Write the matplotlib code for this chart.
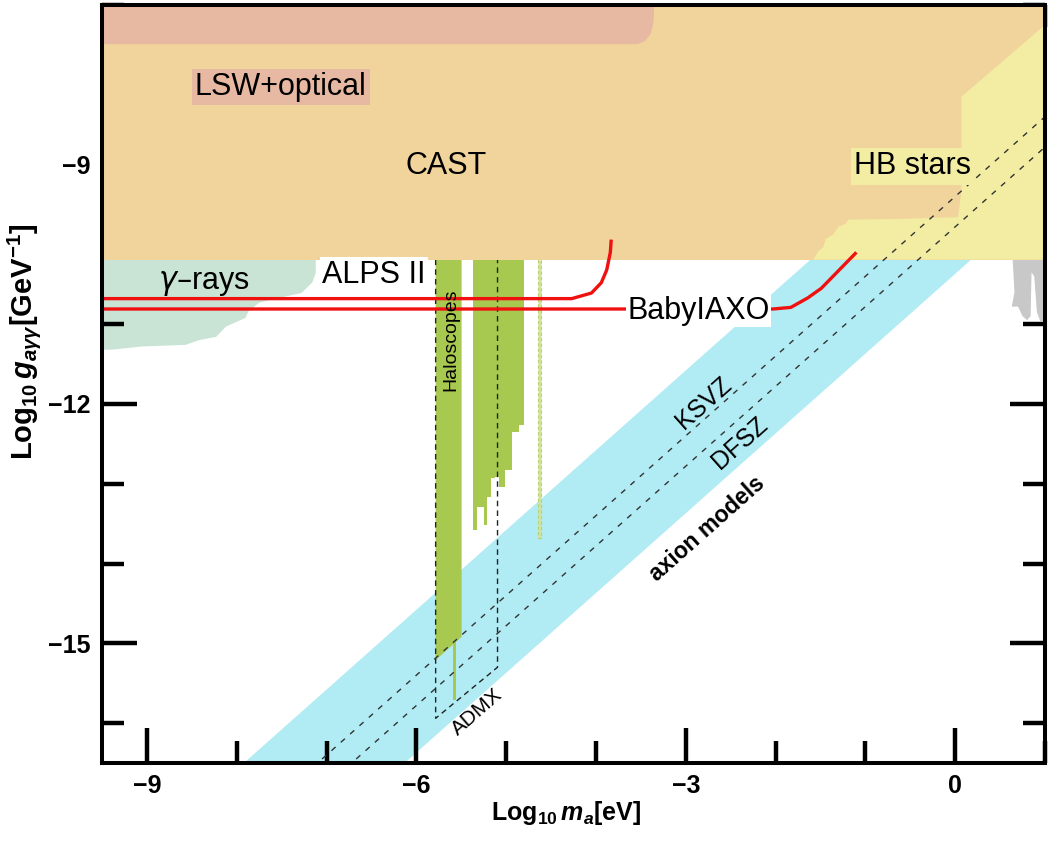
import numpy as np
import matplotlib
matplotlib.use("Agg")
import matplotlib.pyplot as plt
from matplotlib.ticker import FixedLocator, FuncFormatter

plt.rcParams['font.family'] = ['Liberation Sans', 'DejaVu Sans']
plt.rcParams['mathtext.fontset'] = 'custom'
plt.rcParams['mathtext.rm'] = 'Liberation Sans:bold'
plt.rcParams['mathtext.it'] = 'Liberation Sans:bold:italic'
plt.rcParams['mathtext.bf'] = 'Liberation Sans:bold'
plt.rcParams['axes.unicode_minus'] = True

# ---- axis ranges: log10(m_a / eV) and log10(g_agg / GeV^-1)
x_range = (-9.5, 1.0)
y_range = (-16.5, -7.0)

# ---- excluded regions
cast_limit = -10.19

lsw_x = [-9.5, -3.53, -3.45, -3.39, -3.36, -3.35, -9.5]
lsw_y = [-7.49, -7.49, -7.45, -7.36, -7.22, -7.0, -7.0]

hb_x = [-1.58, -1.52, -1.47, -1.44, -1.36, -1.30, -1.22, -1.19, -0.6, 0.03, 0.07, 0.07, 1.0, 1.0]
hb_y = [-10.19, -10.08, -10.04, -9.93, -9.88, -9.78, -9.74, -9.69, -9.68, -9.66, -9.34, -8.15, -7.25, -10.19]

gamma_x = [-9.5, -7.12, -7.12, -7.16, -7.28, -7.53, -7.75, -7.87, -7.90, -8.12, -8.23,
           -8.42, -8.57, -9.06, -9.39, -9.5]
gamma_y = [-10.19, -10.19, -10.36, -10.48, -10.61, -10.67, -10.73, -10.84, -10.92, -11.03,
           -11.16, -11.20, -11.26, -11.28, -11.32, -11.32]

gray_x = [0.64, 0.66, 0.63, 0.70, 0.75, 0.80, 0.84, 0.85, 0.88, 0.91, 0.95, 1.0, 1.0]
gray_y = [-10.19, -10.60, -10.78, -10.78, -10.90, -10.95, -10.90, -10.35, -10.40, -10.85,
          -10.97, -10.97, -10.19]

# ---- haloscope exclusions
admx_bar_x = [-5.785, -5.496, -5.496, -5.785]
admx_bar_y = [cast_limit, cast_limit, -14.92, -15.21]
admx_spike = (-5.596, -5.563, -15.71)

halo_edges = [-5.37, -5.33, -5.25, -5.21, -5.17, -5.12, -5.08, -5.01, -4.94, -4.86, -4.80]
halo_bottom = [-13.58, -13.29, -13.52, -13.17, -12.93, -12.91, -13.04, -12.83, -12.35, -12.26]

thin_bar = (-4.65, -4.61, -13.68)

# ADMX projected sensitivity box
admx_box_x = [-5.785, -5.785, -5.096, -5.096]
admx_box_y = [cast_limit, -15.94, -15.30, cast_limit]

# ---- helioscope / LSW projections
alps_x = [-9.5, -4.27, -4.05, -3.94, -3.88, -3.84, -3.83]
alps_y = [-10.68, -10.68, -10.61, -10.48, -10.32, -10.10, -9.94]

baby_x = [-9.5, -2.03, -1.83, -1.64, -1.49, -1.10]
baby_y = [-10.81, -10.81, -10.79, -10.67, -10.55, -10.10]

# ---- QCD axion band: log10 g = log10 m + offset
band_low, band_high = -10.37, -8.58
ksvz_offset, dfsz_offset = -9.40, -9.78

x_ticks = [-9, -6, -3, 0]
y_ticks = [-9, -12, -15]

# colours
c_cast = '#F1D49C'
c_lsw = '#E8B9A2'
c_hb = '#F2EDA3'
c_gamma = '#C9E4D4'
c_band = '#B1EBF4'
c_halo = '#A8C94F'
c_halo_light = '#D3E39C'
c_red = '#F01010'

fig = plt.figure(figsize=(10.52, 8.41), dpi=100)
ax = fig.add_axes([102 / 1052, 1 - 763 / 841, (1045 - 102) / 1052, (763 - 5) / 841])
ax.set_xlim(*x_range)
ax.set_ylim(*y_range)

# axion band and model lines
xx = np.array(x_range)
ax.fill_between(xx, xx + band_low, xx + band_high, color=c_band, lw=0, zorder=1)
ax.plot(xx, xx + ksvz_offset, ls=(0, (4, 5)), color='#333333', lw=1.0, zorder=6)
ax.plot(xx, xx + dfsz_offset, ls=(0, (4, 5)), color='#333333', lw=1.0, zorder=6)

# astrophysical / experimental regions
ax.fill(gamma_x, gamma_y, color=c_gamma, lw=0, zorder=1)
ax.fill(gray_x, gray_y, color='#C8C8C8', lw=0, zorder=2)
ax.fill_between(xx, cast_limit, y_range[1], color=c_cast, lw=0, zorder=4)
ax.fill(lsw_x, lsw_y, color=c_lsw, lw=0, zorder=5)
ax.fill(hb_x, hb_y, color=c_hb, lw=0, zorder=5)

# haloscopes
ax.fill(admx_bar_x, admx_bar_y, color=c_halo, lw=0, zorder=2)
ax.bar(admx_spike[0], cast_limit - admx_spike[2], width=admx_spike[1] - admx_spike[0],
       bottom=admx_spike[2], align='edge', color=c_halo, lw=0, zorder=2)
ax.bar(halo_edges[:-1], cast_limit - np.array(halo_bottom), width=np.diff(halo_edges),
       bottom=halo_bottom, align='edge', color=c_halo, lw=0, zorder=2)
ax.bar(thin_bar[0], cast_limit - thin_bar[2], width=thin_bar[1] - thin_bar[0],
       bottom=thin_bar[2], align='edge', color=c_halo_light, edgecolor='#B9D270',
       ls=(0, (3, 2)), lw=0.8, zorder=2)
ax.plot(admx_box_x, admx_box_y, ls=(0, (4, 3)), color='#222222', lw=1.0, zorder=3)

# projected sensitivities
ax.plot(alps_x, alps_y, color=c_red, lw=2.4, zorder=7, solid_capstyle='butt')
ax.plot(baby_x, baby_y, color=c_red, lw=2.4, zorder=7, solid_capstyle='butt')

# labels
big = 22
ax.text(-7.51, -8.03, 'LSW+optical', fontsize=big, ha='center', va='center', zorder=9,
        bbox=dict(boxstyle='square,pad=0.1', fc=c_lsw, ec='none'))
ax.text(-5.67, -9.02, 'CAST', fontsize=big, ha='center', va='center', zorder=9)
ax.text(-0.47, -9.02, 'HB stars', fontsize=big, ha='center', va='center', zorder=9,
        bbox=dict(boxstyle='square,pad=0.12', fc=c_hb, ec='none'))
ax.text(-8.36, -10.48, r'$\gamma$–rays', fontsize=big, ha='center', va='center', zorder=9,
        math_fontfamily='dejavusans')
ax.text(-6.47, -10.38, 'ALPS II', fontsize=big, ha='center', va='center', zorder=9,
        bbox=dict(boxstyle='square,pad=0.08', fc='white', ec='none'))
ax.text(-2.86, -10.83, 'BabyIAXO', fontsize=big, ha='center', va='center', zorder=9,
        bbox=dict(boxstyle='square,pad=0.05', fc='white', ec='none'))
ax.text(-5.61, -11.2, 'Haloscopes', fontsize=14, rotation=90, ha='center', va='center',
        zorder=9)
ax.text(-5.32, -15.86, 'ADMX', fontsize=15, rotation=41, ha='center', va='center',
        zorder=9)
ax.text(-2.80, -11.99, 'KSVZ', fontsize=18, rotation=41.6, ha='center', va='center',
        zorder=9)
ax.text(-2.40, -12.49, 'DFSZ', fontsize=18, rotation=41.6, ha='center', va='center',
        zorder=9)
ax.text(-2.76, -13.56, 'axion models', fontsize=16.5, fontweight='bold', rotation=41.6,
        ha='center', va='center', zorder=9)

# axes styling
for s in ax.spines.values():
    s.set_linewidth(2.9)
    s.set_zorder(10)
ax.xaxis.set_major_locator(FixedLocator(x_ticks))
ax.yaxis.set_major_locator(FixedLocator(y_ticks))
ax.xaxis.set_minor_locator(FixedLocator([v for v in range(-9, 2) if v not in x_ticks]))
ax.yaxis.set_minor_locator(FixedLocator([v for v in range(-16, -6) if v not in y_ticks]))
fmt = FuncFormatter(lambda v, p: f'{int(v)}'.replace('-', '\u2212'))
ax.xaxis.set_major_formatter(fmt)
ax.yaxis.set_major_formatter(fmt)
ax.tick_params(which='both', direction='in', top=True, right=True, width=3.2, color='black')
ax.tick_params(which='major', length=25, pad=8, labelsize=18)
ax.tick_params(which='minor', length=16)
for lab in ax.get_xticklabels() + ax.get_yticklabels():
    lab.set_fontweight('bold')

ax.set_xlabel(r'$\mathrm{Log}_{10}\,m_a$[eV]', fontsize=18, fontweight='bold')
ax.xaxis.set_label_coords(0.492, -0.047)
ax.set_ylabel(r'$\mathrm{Log}_{10}\,g_{a\gamma\gamma}$[GeV$^{-1}$]', fontsize=21,
              fontweight='bold')
ax.yaxis.set_label_coords(-0.063, 0.555)

fig.savefig('out.png', dpi=100, facecolor='white')
